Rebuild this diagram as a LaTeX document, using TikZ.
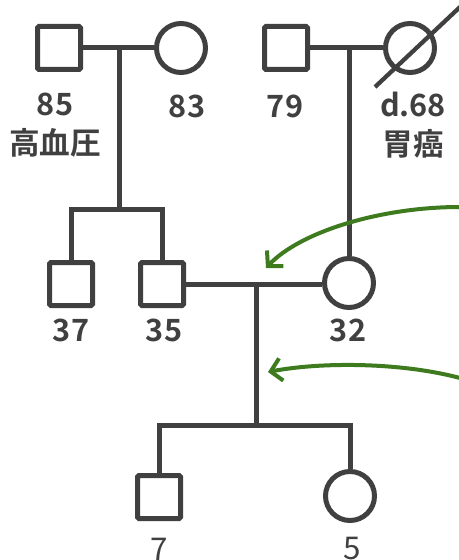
\documentclass[tikz,border=0pt]{standalone}
\usepackage{fontspec}
\setmainfont{Noto Sans CJK JP}[BoldFont={Noto Sans CJK JP Bold}]
\usetikzlibrary{arrows.meta}
\definecolor{pgray}{HTML}{404040}
\definecolor{pgreen}{HTML}{3E7B1F}

\begin{document}
\begin{tikzpicture}[x=0.75pt,y=-0.75pt,line width=3.75pt,pgray,
  male/.style={draw,rectangle,minimum size=32.25pt,inner sep=0pt,rounded corners=1pt},
  female/.style={draw,circle,minimum size=36.75pt,inner sep=0pt},
  age/.style={font=\fontsize{23}{29}\selectfont\bfseries,align=center,text=pgray},
  agelight/.style={font=\fontsize{23.5}{29}\selectfont,text=pgray},
  hint/.style={pgreen,line width=3pt,-{Straight Barb[length=8pt,width=17pt]}}]
\useasboundingbox (0,0) rectangle (459,560);
\node [male] (gf1) at (59,48) {};
\node [female] (gm1) at (181,48) {};
\node [male] (gf2) at (286,48) {};
\node [female] (gm2) at (410,48) {};
\node [male] (u37) at (71,284) {};
\node [male] (f35) at (162,284) {};
\node [female] (m32) at (349,283) {};
\node [male] (s7) at (159,497) {};
\node [female] (d5) at (350,496) {};
\coordinate (m1) at (119,48);
\coordinate (s1) at (119,209);
\coordinate (m2) at (349,48);
\coordinate (m3) at (256,284);
\coordinate (s2) at (256,425);
\draw (gf1) -- (gm1);
\draw (m1) -- (s1);
\draw (u37.north) |- (s1) -| (f35.north);
\draw (gf2) -- (gm2);
\draw (m2) -- (m32.north);
\draw [line width=3.2pt] (gm2.center) ++(-35,39) -- ++(85,-80);
\draw (f35) -- (m3) -- (m3 -| m32.west);
\draw (m3) -- (s2);
\draw (s7.north) |- (s2) -| (d5.north);
\node [age] (l85) at (55,125) {85\\高血圧};
\node [age] (l83) at (187,106) {83};
\node [age] (l79) at (285,106) {79};
\node [age] (l68) at (413,125) {d.68\\胃癌};
\node [age] (l37) at (71,330) {37};
\node [age] (l35) at (164,330) {35};
\node [age] (l32) at (348,330) {32};
\node [agelight] (l7) at (159,549) {7};
\node [agelight] (l5) at (352,549) {5};
\coordinate (h1a) at (460,207);
\coordinate (h1b) at (266,268);
\coordinate (h2a) at (460,378);
\coordinate (h2b) at (268,372);
\draw [hint] (h1a) .. controls (380,207) and (300,232) .. (h1b);
\draw [hint] (h2a) .. controls (400,362) and (320,362) .. (h2b);
\end{tikzpicture}
\end{document}
